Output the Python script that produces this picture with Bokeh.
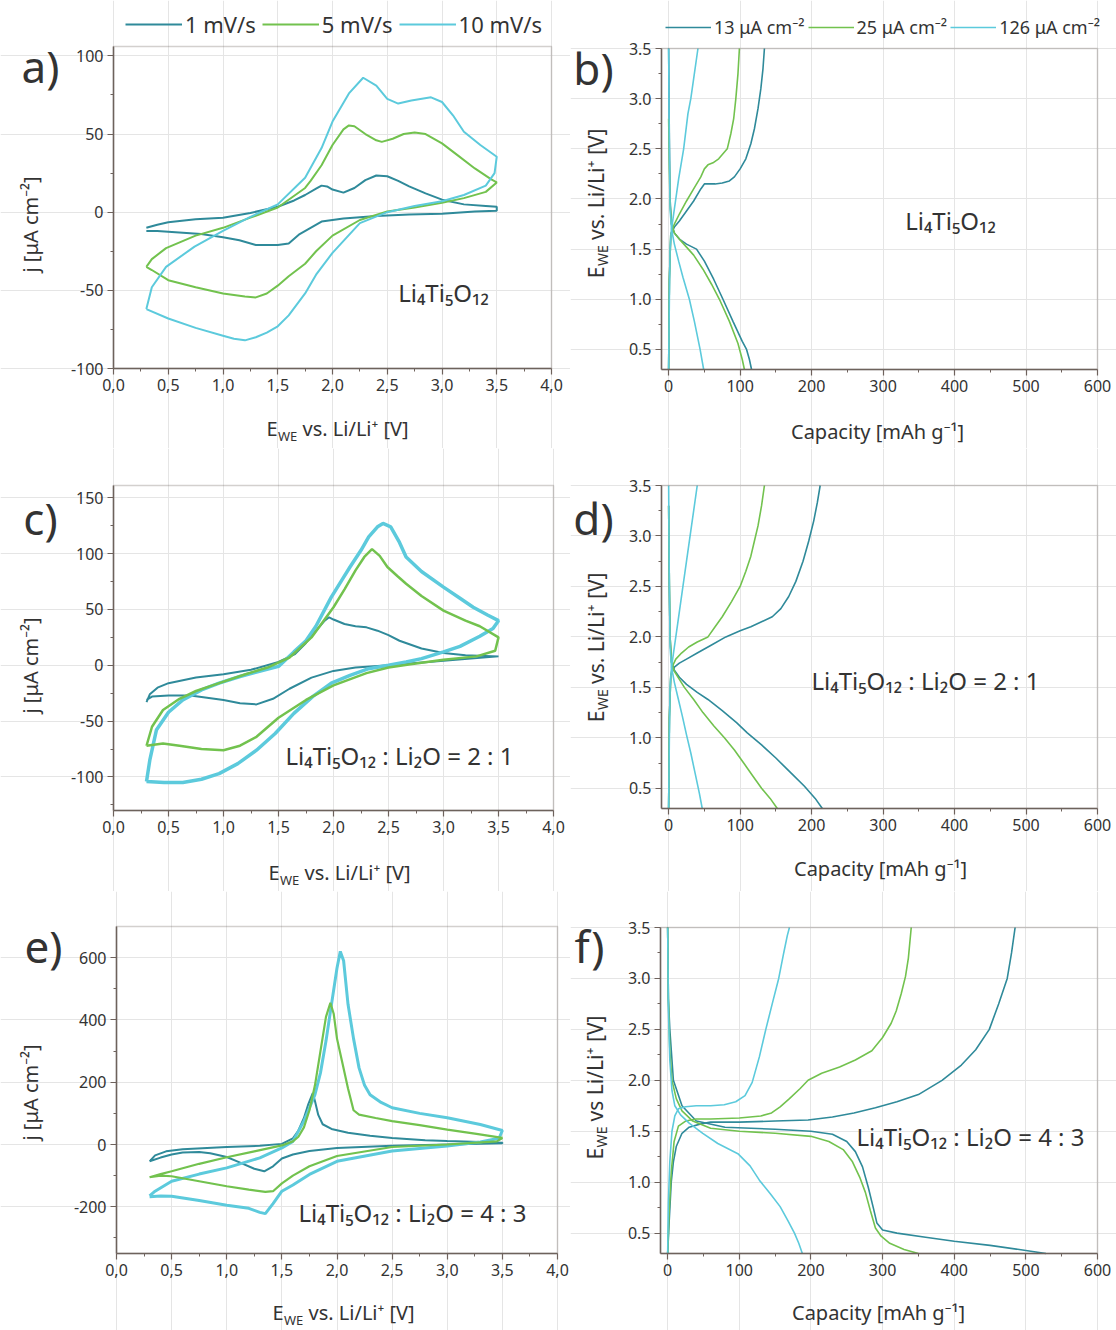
import math
from bokeh.plotting import figure
from bokeh.models import (Label, Legend, LegendItem, FixedTicker, CustomJSTickFormatter,
                          Range1d, LinearAxis, BoxAnnotation)
from bokeh.layouts import row, column
from bokeh.embed import file_html
from bokeh.resources import INLINE

FONT = "Noto Sans"
TEXT = "#333333"
AXC = "#6e625c"
C1 = "#2f8a9a"   # 1 mV/s  / 13 uA cm-2
C2 = "#72c24e"   # 5 mV/s  / 25 uA cm-2
C3 = "#5ccadc"   # 10 mV/s / 126 uA cm-2

# ---------------- panel a : CV Li4Ti5O12 ----------------
a_teal_up_E = [0.3, 0.4, 0.5, 0.75, 1.0, 1.25, 1.5, 1.65, 1.75, 1.85, 1.9, 1.95, 2.0, 2.1, 2.2, 2.3, 2.4, 2.5, 2.6, 2.7, 2.85, 3.0, 3.2, 3.4, 3.5]
a_teal_up_j = [-10, -8, -6.5, -4.5, -3.5, -0.5, 3.5, 7.5, 11, 15, 17, 16.5, 14.5, 12.5, 15.5, 20.5, 23.5, 23, 20, 16.5, 12, 8, 5, 4, 3.5]
a_teal_dn_E = [3.5, 3.3, 3.0, 2.7, 2.4, 2.1, 1.9, 1.8, 1.7, 1.6, 1.5, 1.4, 1.3, 1.15, 1.0, 0.8, 0.6, 0.4, 0.3]
a_teal_dn_j = [1, 0.5, -1, -1.5, -2.5, -4, -6, -10, -14, -20, -21, -21, -21, -18, -16, -14, -13, -12, -12]
a_green_up_E = [0.3, 0.35, 0.48, 0.75, 1.0, 1.25, 1.5, 1.75, 1.8, 1.9, 2.0, 2.1, 2.15, 2.2, 2.3, 2.4, 2.45, 2.55, 2.65, 2.75, 2.85, 3.0, 3.15, 3.3, 3.45, 3.5]
a_green_up_j = [-35, -30, -23, -15, -10, -3.5, 3, 15.5, 20, 30, 43, 53, 55.5, 55, 50, 46, 45, 47, 50, 51, 50, 44, 36, 28, 21, 19]
a_green_dn_E = [3.5, 3.4, 3.2, 3.0, 2.75, 2.5, 2.25, 2.0, 1.85, 1.75, 1.6, 1.5, 1.4, 1.3, 1.2, 1.0, 0.75, 0.5, 0.35, 0.3]
a_green_dn_j = [19, 13, 9, 6, 3, 0.5, -5, -15, -25, -33, -41, -47, -52, -54.5, -54, -52, -48, -43.5, -37, -35]
a_cyan_up_E = [0.3, 0.35, 0.48, 0.74, 1.0, 1.25, 1.5, 1.75, 1.9, 2.0, 2.15, 2.28, 2.4, 2.5, 2.6, 2.72, 2.9, 3.0, 3.1, 3.2, 3.35, 3.5]
a_cyan_up_j = [-62, -48, -35, -22, -12, -3, 5, 22, 41, 58, 76, 86, 81, 72.5, 69.5, 71.5, 73.5, 70.5, 62, 51.5, 43, 35.5]
a_cyan_dn_E = [3.5, 3.48, 3.4, 3.2, 3.0, 2.75, 2.5, 2.25, 2.0, 1.85, 1.75, 1.6, 1.5, 1.4, 1.3, 1.2, 1.1, 1.0, 0.75, 0.5, 0.3]
a_cyan_dn_j = [35.5, 25, 17, 11, 7, 4, 0, -7, -26, -40, -52, -66, -73, -77, -80, -82, -81, -79, -74, -68, -62]

# ---------------- panel b : charge/discharge Li4Ti5O12 ----------------
b_teal_chg_Q = [0, 1, 3, 8, 15, 25, 35, 45, 50, 55, 65, 75, 85, 92, 100, 108, 115, 120, 125, 129, 132, 134]
b_teal_chg_E = [0.3, 1.2, 1.65, 1.72, 1.78, 1.88, 1.98, 2.1, 2.15, 2.15, 2.15, 2.16, 2.18, 2.22, 2.3, 2.4, 2.55, 2.7, 2.9, 3.1, 3.3, 3.5]
b_teal_dis_Q = [0, 1, 2, 4, 8, 15, 25, 39, 50, 63, 76, 90, 103, 109, 113, 116]
b_teal_dis_E = [3.5, 2.6, 2.0, 1.75, 1.66, 1.6, 1.55, 1.5, 1.38, 1.2, 1.0, 0.78, 0.58, 0.5, 0.4, 0.3]
b_green_chg_Q = [0, 1, 3, 8, 15, 25, 35, 45, 50, 55, 62, 70, 76, 82, 87, 91, 94, 97, 99]
b_green_chg_E = [0.3, 1.2, 1.65, 1.75, 1.85, 1.98, 2.1, 2.22, 2.3, 2.34, 2.36, 2.4, 2.45, 2.5, 2.65, 2.8, 3.0, 3.25, 3.5]
b_green_dis_Q = [0, 1, 2, 4, 8, 15, 25, 35, 48, 60, 71, 85, 97, 103, 106]
b_green_dis_E = [2.8, 2.3, 1.95, 1.75, 1.66, 1.6, 1.52, 1.44, 1.3, 1.15, 1.0, 0.78, 0.56, 0.4, 0.3]
b_cyan_chg_Q = [0, 1, 2, 4, 8, 14, 21, 27, 31, 35, 41]
b_cyan_chg_E = [0.3, 1.0, 1.5, 1.7, 1.9, 2.2, 2.5, 2.85, 3.0, 3.2, 3.5]
b_cyan_dis_Q = [0, 1, 2, 4, 8, 14, 20, 29, 36, 44, 49]
b_cyan_dis_E = [3.5, 2.5, 1.9, 1.7, 1.55, 1.38, 1.22, 1.0, 0.78, 0.5, 0.3]

# ---------------- panel c : CV LTO:Li2O = 2:1 ----------------
c_teal_up_E = [0.3, 0.33, 0.4, 0.5, 0.75, 1.0, 1.25, 1.5, 1.65, 1.75, 1.85, 1.92, 1.96, 2.0, 2.1, 2.2, 2.3, 2.4, 2.5, 2.6, 2.8, 3.0, 3.2, 3.5]
c_teal_up_j = [-33, -26, -20, -16, -11, -8, -4, 3, 10, 20, 32, 40, 43, 41, 37, 35, 34, 31, 27, 22, 15, 11, 9, 8]
c_teal_dn_E = [3.5, 3.0, 2.5, 2.2, 2.0, 1.8, 1.6, 1.45, 1.3, 1.15, 1.0, 0.85, 0.7, 0.5, 0.35, 0.3]
c_teal_dn_j = [8, 4, 0, -2, -5, -11, -21, -30, -35, -34, -31, -29, -27, -27, -28, -31]
c_green_up_E = [0.3, 0.35, 0.45, 0.6, 0.75, 0.9, 1.2, 1.4, 1.6, 1.8, 2.0, 2.1, 2.2, 2.28, 2.35, 2.42, 2.49, 2.58, 2.66, 2.8, 3.0, 3.2, 3.33, 3.5]
c_green_up_j = [-72, -55, -40, -30, -23, -18, -8, -2, 7, 25, 52, 68, 85, 97, 104, 98, 88, 80, 73, 62, 49, 40, 35, 25]
c_green_dn_E = [3.5, 3.47, 3.3, 3.0, 2.7, 2.5, 2.3, 2.0, 1.75, 1.5, 1.3, 1.15, 1.0, 0.8, 0.6, 0.45, 0.3]
c_green_dn_j = [25, 13, 8, 5, 1, -2, -7, -18, -31, -47, -64, -72, -76, -75, -72, -70, -72]
c_cyan_up_E = [0.3, 0.33, 0.39, 0.5, 0.63, 0.8, 0.96, 1.15, 1.3, 1.5, 1.64, 1.75, 1.84, 1.98, 2.08, 2.15, 2.25, 2.32, 2.4, 2.45, 2.52, 2.6, 2.66, 2.8, 3.0, 3.15, 3.27, 3.4, 3.5]
c_cyan_up_j = [-104, -85, -58, -42, -31, -22, -16, -10, -6, -1, 12, 22, 35, 61, 77, 88, 103, 115, 124, 127, 124, 110, 97, 84, 70, 60, 52, 45, 40]
c_cyan_dn_E = [3.5, 3.45, 3.33, 3.15, 3.0, 2.8, 2.66, 2.5, 2.32, 2.15, 1.98, 1.81, 1.64, 1.47, 1.3, 1.13, 0.96, 0.8, 0.63, 0.46, 0.3]
c_cyan_dn_j = [40, 33, 26, 17, 12, 6, 3, 0, -3, -9, -16, -28, -43, -61, -76, -88, -97, -102, -105, -105, -104]

# ---------------- panel d : charge/discharge 2:1 ----------------
d_teal_chg_Q = [0, 1, 3, 8, 15, 25, 40, 60, 80, 100, 115, 130, 145, 157, 168, 178, 188, 196, 203, 208, 212]
d_teal_chg_E = [0.3, 1.2, 1.62, 1.7, 1.74, 1.78, 1.84, 1.92, 2.0, 2.06, 2.1, 2.15, 2.2, 2.28, 2.4, 2.55, 2.75, 2.95, 3.15, 3.33, 3.5]
d_teal_dis_Q = [0, 1, 2, 4, 8, 15, 25, 40, 55, 75, 95, 110, 130, 150, 170, 190, 205, 215]
d_teal_dis_E = [3.3, 2.5, 2.0, 1.75, 1.67, 1.6, 1.53, 1.45, 1.38, 1.27, 1.15, 1.05, 0.93, 0.8, 0.66, 0.52, 0.4, 0.3]
d_green_chg_Q = [0, 1, 3, 6, 10, 18, 28, 40, 55, 65, 75, 88, 100, 108, 115, 120, 125, 130, 134]
d_green_chg_E = [0.3, 1.2, 1.62, 1.72, 1.78, 1.84, 1.9, 1.95, 2.0, 2.1, 2.2, 2.35, 2.5, 2.65, 2.8, 2.95, 3.1, 3.3, 3.5]
d_green_dis_Q = [0, 1, 2, 4, 8, 15, 22, 35, 48, 63, 78, 92, 105, 118, 130, 142, 152]
d_green_dis_E = [3.3, 2.5, 2.0, 1.75, 1.66, 1.58, 1.5, 1.38, 1.25, 1.12, 1.0, 0.88, 0.75, 0.62, 0.5, 0.4, 0.3]
d_cyan_chg_Q = [0, 1, 2, 4, 8, 13, 19, 25, 31, 36, 40]
d_cyan_chg_E = [0.3, 1.0, 1.5, 1.7, 1.9, 2.15, 2.45, 2.75, 3.05, 3.3, 3.5]
d_cyan_dis_Q = [0, 1, 2, 4, 8, 13, 19, 25, 31, 37, 43, 47]
d_cyan_dis_E = [3.5, 2.5, 1.9, 1.7, 1.55, 1.4, 1.22, 1.03, 0.85, 0.65, 0.45, 0.3]

# ---------------- panel e : CV LTO:Li2O = 4:3 ----------------
e_teal_up_E = [0.3, 0.35, 0.45, 0.6, 1.0, 1.3, 1.5, 1.6, 1.65, 1.7, 1.74, 1.78, 1.8, 1.83, 1.87, 1.95, 2.1, 2.3, 2.5, 2.8, 3.0, 3.3, 3.5]
e_teal_up_j = [-54, -35, -22, -15, -8, -4, 2, 20, 45, 85, 130, 165, 140, 95, 65, 50, 38, 28, 21, 14, 11, 8, 6]
e_teal_dn_E = [3.5, 3.0, 2.5, 2.0, 1.75, 1.6, 1.5, 1.42, 1.34, 1.25, 1.1, 1.0, 0.85, 0.75, 0.6, 0.5, 0.4, 0.3]
e_teal_dn_j = [4, 0, -4, -11, -21, -32, -45, -70, -86, -78, -55, -40, -28, -24, -26, -32, -42, -54]
e_green_up_E = [0.3, 0.4, 0.5, 0.75, 1.0, 1.25, 1.5, 1.6, 1.65, 1.7, 1.75, 1.8, 1.85, 1.9, 1.94, 1.97, 2.0, 2.05, 2.1, 2.15, 2.2, 2.35, 2.5, 2.75, 3.0, 3.25, 3.5]
e_green_up_j = [-105, -95, -86, -62, -41, -22, -3, 10, 25, 55, 110, 190, 300, 410, 455, 420, 340, 260, 180, 110, 96, 85, 75, 62, 48, 35, 21]
e_green_dn_E = [3.5, 3.45, 3.0, 2.5, 2.0, 1.75, 1.6, 1.5, 1.42, 1.35, 1.2, 1.0, 0.75, 0.5, 0.4, 0.3]
e_green_dn_j = [21, 10, 0, -8, -37, -70, -100, -125, -150, -152, -145, -134, -118, -102, -100, -105]
e_cyan_up_E = [0.3, 0.35, 0.5, 0.75, 1.0, 1.3, 1.5, 1.6, 1.7, 1.8, 1.85, 1.9, 1.95, 2.0, 2.03, 2.06, 2.1, 2.15, 2.2, 2.25, 2.3, 2.4, 2.5, 2.75, 3.0, 3.3, 3.5]
e_cyan_up_j = [-165, -150, -118, -95, -75, -43, -11, 10, 75, 160, 230, 332, 450, 567, 620, 590, 450, 340, 246, 190, 160, 135, 118, 100, 86, 64, 45]
e_cyan_dn_E = [3.5, 3.47, 3.3, 3.0, 2.5, 2.0, 1.75, 1.6, 1.5, 1.42, 1.35, 1.3, 1.2, 1.0, 0.75, 0.5, 0.4, 0.3]
e_cyan_dn_j = [45, 20, 8, -5, -21, -54, -96, -130, -150, -190, -222, -218, -205, -195, -180, -166, -165, -168]

# ---------------- panel f : charge/discharge 4:3 ----------------
f_teal_chg_Q = [0, 2, 5, 8, 12, 20, 30, 45, 60, 100, 150, 196, 230, 260, 290, 320, 350, 383, 410, 430, 449, 462, 474, 480, 485]
f_teal_chg_E = [0.3, 0.6, 1.0, 1.2, 1.35, 1.48, 1.54, 1.57, 1.59, 1.59, 1.6, 1.61, 1.64, 1.68, 1.73, 1.79, 1.86, 2.0, 2.15, 2.3, 2.5, 2.75, 3.0, 3.25, 3.5]
f_teal_dis_Q = [0, 1, 3, 8, 20, 40, 80, 150, 200, 230, 250, 262, 272, 280, 287, 292, 300, 320, 360, 400, 450, 500, 528]
f_teal_dis_E = [3.5, 2.8, 2.5, 2.0, 1.75, 1.6, 1.54, 1.52, 1.5, 1.47, 1.4, 1.3, 1.15, 0.95, 0.75, 0.6, 0.53, 0.5, 0.46, 0.42, 0.38, 0.33, 0.3]
f_green_chg_Q = [0, 2, 5, 9, 15, 25, 40, 60, 100, 130, 145, 157, 170, 185, 196, 215, 240, 262, 285, 300, 312, 319, 326, 332, 336, 340]
f_green_chg_E = [0.3, 0.7, 1.1, 1.4, 1.55, 1.6, 1.62, 1.62, 1.63, 1.65, 1.68, 1.74, 1.82, 1.92, 2.0, 2.07, 2.13, 2.2, 2.29, 2.42, 2.56, 2.68, 2.85, 3.02, 3.2, 3.5]
f_green_dis_Q = [0, 1, 3, 6, 12, 20, 35, 60, 100, 150, 200, 225, 245, 258, 268, 276, 283, 290, 298, 310, 330, 350]
f_green_dis_E = [3.5, 2.8, 2.3, 2.0, 1.82, 1.7, 1.6, 1.53, 1.5, 1.48, 1.45, 1.4, 1.32, 1.2, 1.05, 0.9, 0.72, 0.55, 0.47, 0.4, 0.34, 0.3]
f_cyan_chg_Q = [0, 1, 3, 6, 10, 15, 25, 40, 60, 79, 95, 108, 118, 128, 137, 147, 155, 162, 167, 170]
f_cyan_chg_E = [0.3, 0.8, 1.2, 1.5, 1.65, 1.72, 1.74, 1.75, 1.75, 1.76, 1.79, 1.85, 1.98, 2.23, 2.5, 2.78, 3.0, 3.25, 3.42, 3.5]
f_cyan_dis_Q = [0, 1, 3, 6, 10, 18, 30, 49, 70, 98, 115, 128, 143, 157, 168, 177, 183, 188]
f_cyan_dis_E = [3.5, 2.7, 2.2, 1.9, 1.75, 1.66, 1.58, 1.48, 1.38, 1.28, 1.16, 1.02, 0.89, 0.76, 0.62, 0.5, 0.4, 0.3]

cv_labels = ["1 mV/s", "5 mV/s", "10 mV/s"]
gc_labels = ["13 \u03bcA cm\u207b\u00b2", "25 \u03bcA cm\u207b\u00b2", "126 \u03bcA cm\u207b\u00b2"]
cv_xticks = [0.0, 0.5, 1.0, 1.5, 2.0, 2.5, 3.0, 3.5, 4.0]
cv_xminor = [0.25, 0.75, 1.25, 1.75, 2.25, 2.75, 3.25, 3.75]
gc_xticks = [0, 100, 200, 300, 400, 500, 600]
gc_xminor = [50, 150, 250, 350, 450, 550]
gc_yticks = [0.5, 1.0, 1.5, 2.0, 2.5, 3.0, 3.5]
gc_yminor = [0.75, 1.25, 1.75, 2.25, 2.75, 3.25]
LTO = "Li\u2084Ti\u2085O\u2081\u2082"
J_LABEL = "j [\u03bcA cm\u207b\u00b2]"
CAP_LABEL = "Capacity [mAh g\u207b\u00b9]"
VS_DOT = "vs. Li/Li\u207a [V]"
VS_NODOT = "vs Li/Li\u207a [V]"

LW = 2.0


def make_panel(w, h, fl, fr, ft, fb, xr, yr, xticks, xminor, yticks, yminor, xfmt, yfmt):
    """fl/fr/ft/fb: pixel edges of the plotting box inside a w x h canvas."""
    x0, x1 = xr
    y0, y1 = yr
    kx = (x1 - x0) / (fr - fl)
    ky = (y1 - y0) / (fb - ft)
    p = figure(width=w, height=h,
               x_range=Range1d(x0 - fl * kx, x1 + (w - fr) * kx),
               y_range=Range1d(y0 - (h - fb) * ky, y1 + ft * ky),
               x_axis_location=None, y_axis_location=None,
               output_backend="svg", toolbar_location=None,
               min_border=0, min_border_left=0, min_border_right=0,
               min_border_top=0, min_border_bottom=0)
    p.outline_line_color = None
    p.background_fill_color = "white"
    p.border_fill_color = "white"
    xa = LinearAxis(fixed_location=y0, bounds=(x0, x1))
    ya = LinearAxis(fixed_location=x0, bounds=(y0, y1))
    xa.ticker = FixedTicker(ticks=xticks, minor_ticks=xminor)
    ya.ticker = FixedTicker(ticks=yticks, minor_ticks=yminor)
    xa.formatter = CustomJSTickFormatter(code=xfmt)
    ya.formatter = CustomJSTickFormatter(code=yfmt)
    for ax in (xa, ya):
        ax.axis_line_color = AXC
        ax.axis_line_width = 1.5
        ax.major_tick_line_color = AXC
        ax.minor_tick_line_color = AXC
        ax.major_tick_line_width = 1.2
        ax.major_tick_out = 6
        ax.major_tick_in = 0
        ax.minor_tick_out = 3
        ax.minor_tick_in = 0
        ax.major_label_text_font = FONT
        ax.major_label_text_font_size = "16px"
        ax.major_label_text_color = TEXT
        ax.major_label_standoff = 4
    p.add_layout(xa, "below")
    p.add_layout(ya, "left")
    p.add_layout(BoxAnnotation(left=x0, right=x1, bottom=y0, top=y1, fill_color=None,
                               line_color=AXC, line_width=1.5))
    p.tags = [h]
    return p


def lab(p, x, y, text, size, angle=0.0, align="left", baseline="middle"):
    """x, y in pixels from the top-left corner of the panel canvas."""
    h = p.tags[0]
    p.add_layout(Label(x=x, y=h - y, x_units="screen", y_units="screen", text=text,
                       text_font=FONT, text_font_size=f"{size}px", text_color=TEXT,
                       text_align=align, text_baseline=baseline, angle=angle))


def ewe_horizontal(p, x_end, cy, big=20, small=13, rest=VS_DOT, rest_em=5.2):
    wE = 0.58 * big
    wWE = 1.5 * small
    gap = 5
    total = wE + wWE + gap + rest_em * big
    start = x_end - total
    lab(p, start, cy, "E", big)
    lab(p, start + wE, cy + 7, "WE", small)
    lab(p, start + wE + wWE + gap, cy, rest, big)


def ewe_rotated(p, cx, cy, big=21, small=14, rest=VS_DOT, rest_em=5.2):
    a = math.pi / 2
    wE = 0.58 * big
    wWE = 1.5 * small
    gap = 5
    total = wE + wWE + gap + rest_em * big
    start = cy + total / 2
    lab(p, cx, start, "E", big, a)
    lab(p, cx + 7, start - wE, "WE", small, a)
    lab(p, cx, start - wE - wWE - gap, rest, big, a)


def loop(p, up_x, up_y, dn_x, dn_y, color, lw=LW):
    return p.line(up_x + dn_x, up_y + dn_y, line_color=color, line_width=lw)


def curves(p, cx, cy, dx, dy, color, lw=1.6):
    r = p.line(cx, cy, line_color=color, line_width=lw)
    p.line(dx, dy, line_color=color, line_width=lw)
    return r


def legend(p, labels, rends, x_left, y_bottom, gw, size, spacing):
    h = p.tags[0]
    leg = Legend(items=[LegendItem(label=l, renderers=[r]) for l, r in zip(labels, rends)],
                 orientation="horizontal", location=(x_left, h - y_bottom),
                 glyph_width=gw, glyph_height=20,
                 label_standoff=3, spacing=spacing, padding=0, margin=0,
                 border_line_color=None, background_fill_alpha=0,
                 label_text_font=FONT, label_text_font_size=f"{size}px",
                 label_text_color=TEXT, label_height=20)
    p.add_layout(leg)


FX1 = "return tick.toFixed(1).replace('.', ',')"
FX0 = "return tick.toFixed(0)"
FXD = "return tick.toFixed(1)"
LW_COL, RW_COL = 570, 546
H1, H2, H3 = 448, 443, 439
LETTER = 44

# ---- a ----
pa = make_panel(LW_COL, H1, 113, 551, 46, 368, (0, 4), (-100, 106),
                cv_xticks, cv_xminor, [-100, -50, 0, 50, 100], [-75, -25, 25, 75], FX1, FX0)
ra1 = loop(pa, a_teal_up_E, a_teal_up_j, a_teal_dn_E, a_teal_dn_j, C1)
ra2 = loop(pa, a_green_up_E, a_green_up_j, a_green_dn_E, a_green_dn_j, C2)
ra3 = loop(pa, a_cyan_up_E, a_cyan_up_j, a_cyan_dn_E, a_cyan_dn_j, C3)
legend(pa, cv_labels, [ra1, ra2, ra3], 125, 39, 57, 22, 6)
lab(pa, 40, 65, "a)", LETTER, align="center")
lab(pa, 30, 224, J_LABEL, 20, math.pi / 2, align="center")
ewe_horizontal(pa, 406, 428)
lab(pa, 443, 292, LTO, 24, align="center")

# ---- b ----
pb = make_panel(RW_COL, H1, 91, 527, 48, 369, (-10, 600), (0.3, 3.5),
                gc_xticks, gc_xminor, gc_yticks, gc_yminor, FX0, FXD)
rb1 = curves(pb, b_teal_chg_Q, b_teal_chg_E, b_teal_dis_Q, b_teal_dis_E, C1)
rb2 = curves(pb, b_green_chg_Q, b_green_chg_E, b_green_dis_Q, b_green_dis_E, C2)
rb3 = curves(pb, b_cyan_chg_Q, b_cyan_chg_E, b_cyan_dis_Q, b_cyan_dis_E, C3)
legend(pb, gc_labels, [rb1, rb2, rb3], 95, 39, 46, 18, 3)
lab(pb, 23, 67, "b)", LETTER, align="center")
ewe_rotated(pb, 25, 204)
lab(pb, 307, 431, CAP_LABEL, 20, align="center")
lab(pb, 380, 220, LTO, 24, align="center")

# ---- c ----
pc = make_panel(LW_COL, H2, 113, 553, 37, 362, (0, 4), (-130, 161),
                cv_xticks, cv_xminor, [-100, -50, 0, 50, 100, 150], [-125, -75, -25, 25, 75, 125], FX1, FX0)
loop(pc, c_teal_up_E, c_teal_up_j, c_teal_dn_E, c_teal_dn_j, C1)
loop(pc, c_cyan_up_E, c_cyan_up_j, c_cyan_dn_E, c_cyan_dn_j, C3, 3.5)
loop(pc, c_green_up_E, c_green_up_j, c_green_dn_E, c_green_dn_j, C2, 2.5)
lab(pc, 40, 69, "c)", LETTER, align="center")
lab(pc, 30, 217, J_LABEL, 20, math.pi / 2, align="center")
ewe_horizontal(pc, 408, 424)
lab(pc, 399, 307, LTO + " : Li\u2082O = 2 : 1", 24, align="center")

# ---- d ----
pd_ = make_panel(RW_COL, H2, 91, 527, 37, 360, (-10, 600), (0.3, 3.5),
                 gc_xticks, gc_xminor, gc_yticks, gc_yminor, FX0, FXD)
curves(pd_, d_teal_chg_Q, d_teal_chg_E, d_teal_dis_Q, d_teal_dis_E, C1)
curves(pd_, d_green_chg_Q, d_green_chg_E, d_green_dis_Q, d_green_dis_E, C2)
curves(pd_, d_cyan_chg_Q, d_cyan_chg_E, d_cyan_dis_Q, d_cyan_dis_E, C3)
lab(pd_, 23, 69, "d)", LETTER, align="center")
ewe_rotated(pd_, 25, 200)
lab(pd_, 310, 420, CAP_LABEL, 20, align="center")
lab(pd_, 355, 232, LTO + " : Li\u2082O = 2 : 1", 24, align="center")

# ---- e ----
pe = make_panel(LW_COL, H3, 116, 557, 35, 362, (0, 4), (-350, 700),
                cv_xticks, cv_xminor, [-200, 0, 200, 400, 600], [-300, -100, 100, 300, 500], FX1, FX0)
loop(pe, e_teal_up_E, e_teal_up_j, e_teal_dn_E, e_teal_dn_j, C1)
loop(pe, e_cyan_up_E, e_cyan_up_j, e_cyan_dn_E, e_cyan_dn_j, C3, 3.0)
loop(pe, e_green_up_E, e_green_up_j, e_green_dn_E, e_green_dn_j, C2, 2.2)
lab(pe, 43, 54, "e)", LETTER, align="center")
lab(pe, 30, 201, J_LABEL, 20, math.pi / 2, align="center")
ewe_horizontal(pe, 412, 421)
lab(pe, 412, 321, LTO + " : Li\u2082O = 4 : 3", 24, align="center")

# ---- f ----
pf = make_panel(RW_COL, H3, 90, 527, 36, 362, (-10, 600), (0.3, 3.5),
                gc_xticks, gc_xminor, gc_yticks, gc_yminor, FX0, FXD)
curves(pf, f_teal_chg_Q, f_teal_chg_E, f_teal_dis_Q, f_teal_dis_E, C1)
curves(pf, f_green_chg_Q, f_green_chg_E, f_green_dis_Q, f_green_dis_E, C2)
curves(pf, f_cyan_chg_Q, f_cyan_chg_E, f_cyan_dis_Q, f_cyan_dis_E, C3)
lab(pf, 19, 54, "f)", LETTER, align="center")
ewe_rotated(pf, 24, 197, rest=VS_NODOT, rest_em=4.95)
lab(pf, 308, 421, CAP_LABEL, 20, align="center")
lab(pf, 400, 245, LTO + " : Li\u2082O = 4 : 3", 24, align="center")

layout = column(row(pa, pb), row(pc, pd_), row(pe, pf))
open("out.html", "w").write(file_html(layout, INLINE))
